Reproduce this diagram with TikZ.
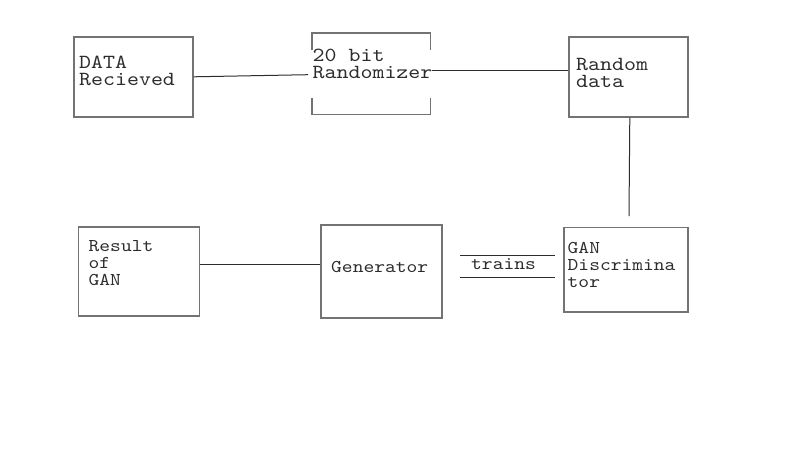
\documentclass[tikz,border=0pt]{standalone}
\usepackage{fontspec}
\newfontfamily\boxfont{lmmono10-regular}[Extension=.otf,FakeStretch=1.14]
\definecolor{boxgray}{RGB}{115,115,115}
\definecolor{linegray}{RGB}{45,45,45}
\tikzset{
	box/.style 2 args={draw=boxgray,line width=1.6pt,anchor=north west,inner sep=0pt,minimum width=#1,minimum height=#2},
	bigtxt/.style={anchor=base west,inner sep=0pt,align=left,text=linegray,font=\boxfont\fontsize{20}{17}\selectfont},
	smalltxt/.style={anchor=base west,inner sep=0pt,align=left,text=linegray,font=\boxfont\fontsize{18}{17}\selectfont},
	link/.style={draw=linegray,line width=1pt}
}
\begin{document}
\begin{tikzpicture}[x=1pt,y=-1pt]
	\useasboundingbox (0,0) rectangle (791,455);
	\node [box={119pt}{80pt}] (data) at (73,36) {};
	\node [box={119pt}{80pt}] (rdata) at (568,36) {};
	\node [box={121pt}{89pt}] (result) at (77.5,226) {};
	\node [box={121pt}{93pt}] (gen) at (320,224) {};
	\node [box={124pt}{84.5pt}] (disc) at (563,226.5) {};

	\node [bigtxt] (datatxt) at (79,85.7) {DATA\\Recieved};
	\node [bigtxt] (rand) at (312.5,78) {20 bit\\Randomizer};
	\node [bigtxt] (rdatatxt) at (576,87.3) {Random\\data};
	\node [smalltxt] (resulttxt) at (88.5,285) {Result\\of\\GAN};
	\node [smalltxt] (gentxt) at (331,272.3) {Generator};
	\node [smalltxt] (disctxt) at (567.5,287.7) {GAN\\Discrimina\\tor};
	\node [smalltxt] (trains) at (471,269.3) {trains};

	\coordinate (randL) at (308,74.7);
	\coordinate (randR) at (432,70.3);
	\coordinate (discTop) at (629,216);

	% randomizer outline, open at the sides
	\draw [boxgray, line width=1.6pt] (311.7,50) -- (311.7,33) -- (430.5,33) -- (430.5,50);
	\draw [boxgray, line width=1.6pt] (311.7,98) -- (311.7,114.3) -- (430.5,114.3) -- (430.5,98);

	\draw [link] (data.east) -- (randL);
	\draw [link] (randR) -- (randR -| rdata.west);
	\draw [link] ([xshift=1.5pt]rdata.south) -- (discTop);
	\draw [link] ([yshift=6.5pt]result.east) -- ([yshift=6.5pt]result.east -| gen.west);
	\draw [link] (460,255) -- (555,255);
	\draw [link] (460,277.3) -- (555,277.3);
\end{tikzpicture}
\end{document}
